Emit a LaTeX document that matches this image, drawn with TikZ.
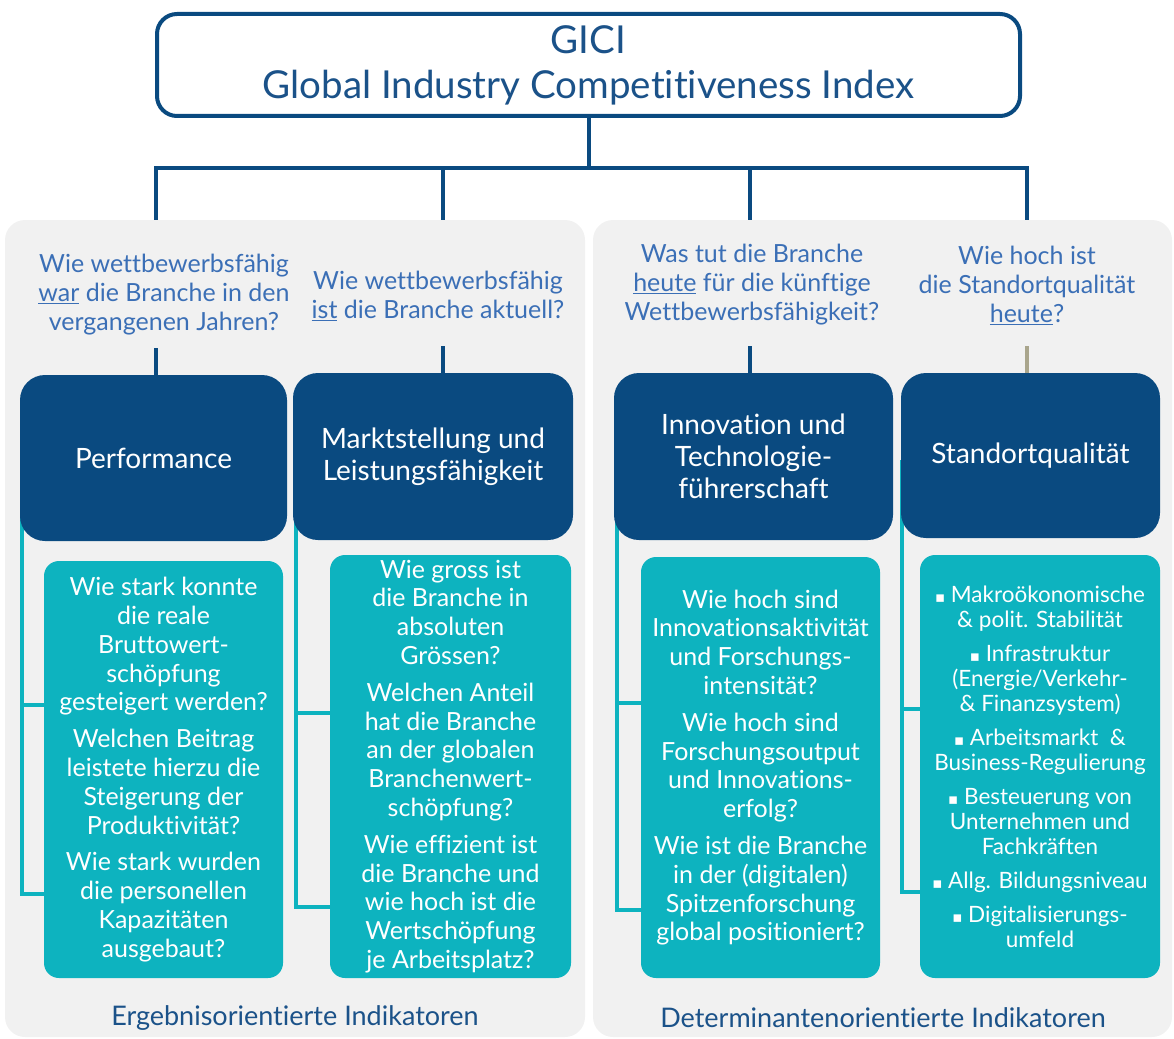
\documentclass[tikz,border=0pt]{standalone}
\usepackage{fontspec}
\setmainfont{Lato}[Ligatures={NoCommon}]
\newfontfamily\symfont{DejaVu Sans}
\usetikzlibrary{positioning}
\definecolor{gicinavy}{HTML}{0A4A80}
\definecolor{gicitext}{HTML}{1B5289}
\definecolor{giciblue}{HTML}{3B6FB6}
\definecolor{giciteal}{HTML}{0DB3BF}
\definecolor{panelgray}{HTML}{F1F1F1}
\definecolor{tanline}{HTML}{A9A58C}
\newcommand{\sqb}{{\symfont\fontsize{15}{15}\selectfont\char"25AA}\ }
\tikzset{
  headbox/.style={draw=gicinavy, line width=4pt, rounded corners=20pt, fill=white, text=gicitext, align=center,
    font=\fontsize{38.5}{45}\selectfont, minimum width=863pt, minimum height=102pt, inner sep=0pt},
  bus/.style={draw=gicinavy, line width=4pt},
  question/.style={text=giciblue, align=center, font=\fontsize{25}{29}\selectfont, inner sep=0pt},
  pillar/.style={fill=gicinavy, rounded corners=25pt, text=white, align=center, font=\fontsize{28}{32}\selectfont, inner sep=0pt},
  answer/.style={fill=giciteal, rounded corners=15pt, text=white, align=center, font=\fontsize{25}{28.8}\selectfont, inner sep=0pt},
  bracket/.style={draw=giciteal, line width=3.5pt},
  footer/.style={text=gicitext, font=\fontsize{27}{30}\selectfont, inner sep=0pt}
}
\begin{document}
\begin{tikzpicture}[x=1pt,y=-1pt]
        \useasboundingbox (0,0) rectangle (1174,1038);
        % Kopf
        \node[headbox] (gici) at (588.5,65) {GICI\\Global Industry Competitiveness Index};
        % Verbindungen zu den vier Saeulen
        \coordinate (bus) at (gici.south |- 0,168);
        \coordinate (busl) at (156,168);
        \coordinate (busr) at (1027,168);
        \draw[bus] (gici.south) -- (bus);
        \draw[bus,line cap=rect] (busl) -- (busr);
        \foreach \x in {156,443,750,1027}
            \draw[bus] (\x,168) -- (\x,226);
        % Hintergrundflaechen
        \fill[panelgray,rounded corners=20pt] (5,220) rectangle (585,1037);
        \fill[panelgray,rounded corners=20pt] (593,220) rectangle (1172,1037);
        % Leitfragen
        \node[question] (q1) at (164,295) {Wie wettbewerbsfähig\\\underline{war} die Branche in den\\vergangenen Jahren?};
        \node[question] (q2) at (438,296) {Wie wettbewerbsfähig\\\underline{ist} die Branche aktuell?};
        \node[question] (q3) at (752,285) {Was tut die Branche\\\underline{heute} für die künftige\\Wettbewerbsfähigkeit?};
        \node[question] (q4) at (1027,285) {Wie hoch ist\\die Standortqualität\\\underline{heute}?};
        % Klammern
        \draw[bracket] (22,460) |- (44,894);
        \draw[bracket] (22,705) -- (44,705);
        \draw[bracket] (296,460) |- (330,907);
        \draw[bracket] (296,713) -- (330,713);
        \draw[bracket] (617,460) |- (641,910);
        \draw[bracket] (617,703) -- (641,703);
        \draw[bracket] (902,460) |- (920,892);
        \draw[bracket] (902,709) -- (920,709);
        % Saeulen
        \node[pillar, minimum width=267pt, minimum height=166pt] (perf) at (153.5,458) {Performance};
        \node[pillar, minimum width=280pt, minimum height=167pt] (markt) at (433,456.5) {Marktstellung und\\Leistungsfähigkeit};
        \node[pillar, minimum width=279pt, minimum height=167pt] (innov) at (753.5,456.5) {Innovation und\\Technologie-\\führerschaft};
        \node[pillar, minimum width=259pt, minimum height=165pt] (stand) at (1030.5,455.5) {Standortqualität};
        \draw[bus] (perf.north -| 156,0) -- ++(0,-27);
        \draw[bus] (markt.north -| 443,0) -- ++(0,-27);
        \draw[bus] (innov.north -| 750,0) -- ++(0,-27);
        \draw[bus,draw=tanline] (stand.north -| 1027,0) -- ++(0,-27);
        % Indikatoren
        \node[answer, minimum width=239pt, minimum height=417pt] (ans1) at (163.5,769.5)
            {Wie stark konnte\\die reale\\Bruttowert-\\schöpfung\\gesteigert werden?\\[8pt]
             Welchen Beitrag\\leistete hierzu die\\Steigerung der\\Produktivität?\\[8pt]
             Wie stark wurden\\die personellen\\Kapazitäten\\ausgebaut?};
        \node[answer, minimum width=241pt, minimum height=423pt] (ans2) at (450.5,766.5)
            {Wie gross ist\\die Branche in\\absoluten\\Grössen?\\[8pt]
             Welchen Anteil\\hat die Branche\\an der globalen\\Branchenwert-\\schöpfung?\\[8pt]
             Wie effizient ist\\die Branche und\\wie hoch ist die\\Wertschöpfung\\je Arbeitsplatz?};
        \node[answer, minimum width=239pt, minimum height=421pt] (ans3) at (760.5,767.5)
            {Wie hoch sind\\Innovationsaktivität\\und Forschungs-\\intensität?\\[8pt]
             Wie hoch sind\\Forschungsoutput\\und Innovations-\\erfolg?\\[8pt]
             Wie ist die Branche\\in der (digitalen)\\Spitzenforschung\\global positioniert?};
        \node[answer, minimum width=240pt, minimum height=423pt, font=\fontsize{22.5}{25}\selectfont] (ans4) at (1040,766.5)
            {\sqb Makroökonomische\\\& polit. Stabilität\\[9pt]
             \sqb Infrastruktur\\(Energie/Verkehr-\\\& Finanzsystem)\\[9pt]
             \sqb Arbeitsmarkt \ \&\\Business-Regulierung\\[9pt]
             \sqb Besteuerung von\\Unternehmen und\\Fachkräften\\[9pt]
             \sqb Allg. Bildungsniveau\\[9pt]
             \sqb Digitalisierungs-\\umfeld};
        % Fusszeilen
        \node[footer] (erg) at (295,1018) {Ergebnisorientierte Indikatoren};
        \node[footer] (det) at (883,1018) {Determinantenorientierte Indikatoren};
\end{tikzpicture}
\end{document}
